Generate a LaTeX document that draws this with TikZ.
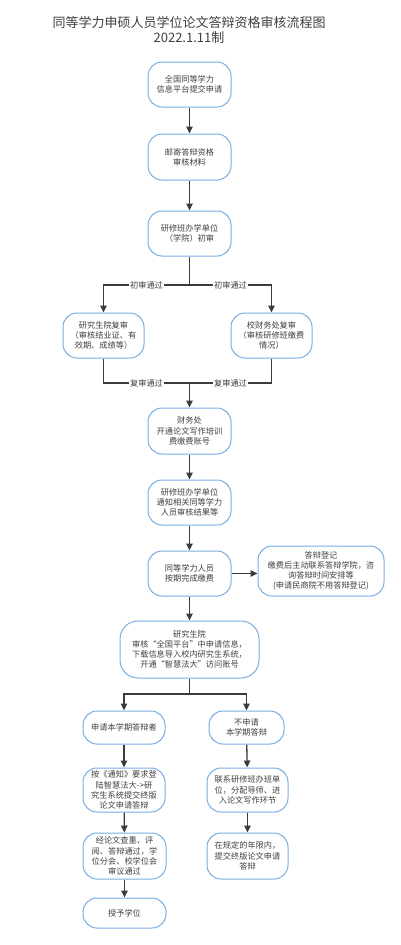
\documentclass[tikz,border=0pt]{standalone}
\usepackage{fontspec}
\newfontfamily\cjk{Noto Sans CJK SC}
\usetikzlibrary{arrows.meta}
\definecolor{boxblue}{RGB}{122,174,226}
\definecolor{txtgray}{RGB}{64,64,64}
\definecolor{linegray}{RGB}{60,60,60}
\tikzset{
  box/.style={draw=boxblue, line width=1pt, rounded corners=14pt, fill=white,
    align=center, text=txtgray, inner sep=0pt,
    font=\cjk\fontsize{8.2}{10.2}\selectfont},
  conn/.style={draw=linegray, line width=1.3pt},
  arr/.style={conn, -{Triangle[length=7pt,width=6.5pt]}},
  lab/.style={fill=white, text=txtgray, inner sep=1pt,
    font=\cjk\fontsize{8.2}{10}\selectfont},
}
\begin{document}
\begin{tikzpicture}[x=1pt,y=-1pt]
\useasboundingbox (0,0) rectangle (401,945);
\fill[white] (0,0) rectangle (401,945);
\node[text=txtgray, align=center, font=\cjk\fontsize{13}{15}\selectfont] (title) at (189,29.5)
  {同等学力申硕人员学位论文答辩资格审核流程图\\2022.1.11制};

\node[box, minimum width=83pt, minimum height=45pt] (n1) at (189.5,84.5) {全国同等学力\\信息平台提交申请};
\node[box, minimum width=83pt, minimum height=46pt] (n2) at (189.5,157) {邮寄答辩资格\\审核材料};
\node[box, minimum width=83pt, minimum height=45pt] (n3) at (189.5,233.5) {研修班办学单位\\（学院）初审};
\node[box, minimum width=81pt, minimum height=45pt] (n4L) at (103.5,335.5) {研究生院复审\\（审核结业证、有\\效期、成绩等）};
\node[box, minimum width=81pt, minimum height=45pt] (n4R) at (271.5,335.5) {校财务处复审\\（审核研修班缴费\\情况）};
\node[box, minimum width=83pt, minimum height=46pt] (n5) at (189.5,431) {财务处\\开通论文写作培训\\费缴费账号};
\node[box, minimum width=83pt, minimum height=45pt] (n6) at (189.5,502.5) {研修班办学单位\\通知相关同等学力\\人员审核结果等};
\node[box, minimum width=83pt, minimum height=45pt] (n7) at (189.5,573.5) {同等学力人员\\按期完成缴费};
\node[box, minimum width=126pt, minimum height=50pt] (n7R) at (321,571) {答辩登记\\缴费后主动联系答辩学院，咨\\询答辩时间安排等\\(申请民商院不用答辩登记)};
\node[box, minimum width=139pt, minimum height=57pt, rounded corners=18pt] (n8) at (189.5,649.5) {研究生院\\审核“全国平台”中申请信息，\\下载信息导入校内研究生系统，\\开通“智慧法大”访问账号};
\node[box, minimum width=82pt, minimum height=33pt] (n9L) at (124,727.5) {申请本学期答辩者};
\node[box, minimum width=75pt, minimum height=33pt] (n9R) at (246.5,727.5) {不申请\\本学期答辩};
\node[box, minimum width=82pt, minimum height=44pt] (n10L) at (124,790) {按《通知》要求登\\陆智慧法大->研\\究生系统提交终版\\论文申请答辩};
\node[box, minimum width=81pt, minimum height=44pt] (n10R) at (247.5,790) {联系研修班办班单\\位，分配导师、进\\入论文写作环节};
\node[box, minimum width=83pt, minimum height=46pt] (n11L) at (124.5,856) {经论文查重、评\\阅、答辩通过，学\\位分会、校学位会\\审议通过};
\node[box, minimum width=81pt, minimum height=46pt] (n11R) at (247.5,856) {在规定的年限内，\\提交终版论文申请\\答辩};
\node[box, minimum width=83pt, minimum height=30pt] (n12L) at (124.5,913) {授予学位};

\coordinate (b1) at (189.5,285);
\coordinate (m1) at (189.5,383);
\coordinate (b2) at (189.5,694);

\draw[arr] (n1) -- (n2);
\draw[arr] (n2) -- (n3);
\draw[conn] (n3.south) -- (b1);
\draw[arr] (b1) -| node[pos=0.25,lab]{初审通过} (n4L.north);
\draw[arr] (b1) -| node[pos=0.25,lab]{初审通过} (n4R.north);
\draw[conn] (n4L.south) |- node[pos=0.75,lab]{复审通过} (m1);
\draw[conn] (n4R.south) |- node[pos=0.75,lab]{复审通过} (m1);
\draw[arr] (m1) -- (n5.north);
\draw[arr] (n5) -- (n6);
\draw[arr] (n6) -- (n7);
\draw[arr] (n7.east) -- (n7R.west |- n7.east);
\draw[arr] (n7) -- (n8);
\draw[conn] (n8.south) -- (b2);
\draw[arr] (b2) -| (n9L.north);
\draw[arr] (b2) -| (n9R.north);
\draw[arr] (n9L) -- (n10L);
\draw[arr] (n10L) -- (n11L);
\draw[arr] (n11L) -- (n12L);
\draw[arr] (n9R) -- (n10R);
\draw[arr] (n10R) -- (n11R);
\end{tikzpicture}
\end{document}
